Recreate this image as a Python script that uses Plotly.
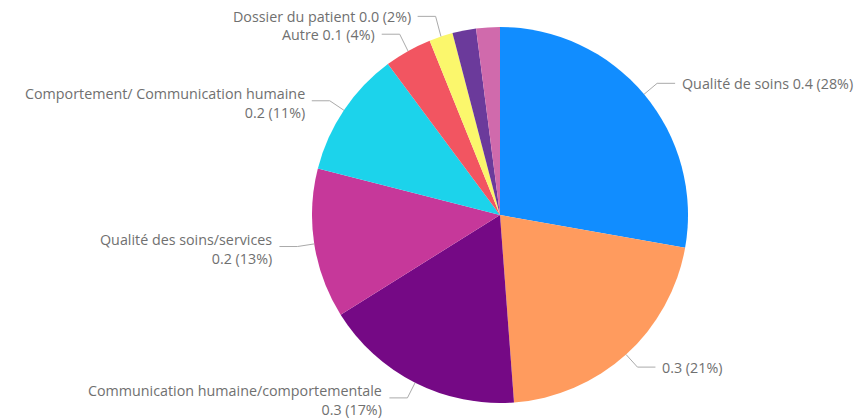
import math
import plotly.graph_objects as go

# ---- data ----
categories = ["Qualité de soins", "", "Communication humaine/comportementale",
              "Qualité des soins/services", "Comportement/ Communication humaine",
              "Autre", "Dossier du patient", "Catégorie 8", "Catégorie 9"]
values = [0.41, 0.31, 0.255, 0.19, 0.16, 0.06, 0.03, 0.03, 0.03]
colors = ["#118DFF", "#FF9B5E", "#750985", "#C6389A", "#1CD3EB",
          "#F25561", "#FBF76C", "#6B3A9B", "#D06AAC"]
show_label = [True, True, True, True, True, True, True, False, False]
# label text split into two lines for these
two_line = [False, False, True, True, True, False, False, False, False]

# ---- layout geometry (pixels) ----
W, H = 863, 420
cx, cy, R = 500, 215, 188
FONT = dict(family="Open Sans, Roboto, sans-serif", size=14.3, color="#707070")
# small vertical nudges (px) for crowded labels, keyed by slice index
NUDGE = {5: -2, 6: -4}

fig = go.Figure()
fig.add_trace(go.Pie(
    labels=[c if c else " " for c in categories], values=values,
    marker=dict(colors=colors, line=dict(width=0)),
    sort=False, direction="clockwise", rotation=0,
    textinfo="none", hoverinfo="label+value+percent",
    domain=dict(x=[(cx - R) / W, (cx + R) / W], y=[1 - (cy + R) / H, 1 - (cy - R) / H]),
    showlegend=False,
))

def px2paper(x, y):
    return x / W, 1 - y / H

total = sum(values)
cum = 0.0
shapes = []
annotations = []
for i, v in enumerate(values):
    frac = v / total
    mid = (cum + frac / 2) * 2 * math.pi
    cum += frac
    if not show_label[i]:
        continue
    sx, sy = math.sin(mid), -math.cos(mid)
    p0 = (cx + R * sx, cy + R * sy)
    p1 = (cx + (R + 17) * sx, cy + (R + 17) * sy + NUDGE.get(i, 0))
    right = sx >= 0
    p2 = (p1[0] + (18 if right else -18), p1[1])
    pct = round(frac * 100)
    num = f"{v:.1f} ({pct}%)"
    name = categories[i]
    if not name:
        txt = num
    elif two_line[i]:
        txt = f"{name}<br>{num}"
    else:
        txt = f"{name} {num}"
    path = "M {} {} L {} {} L {} {}".format(
        *px2paper(*p0), *px2paper(*p1), *px2paper(*p2))
    shapes.append(dict(type="path", xref="paper", yref="paper", path=path,
                       line=dict(color="#AAAAAA", width=1)))
    tx, ty = px2paper(p2[0] + (5 if right else -5), p1[1])
    annotations.append(dict(
        x=tx, y=ty, xref="paper", yref="paper", text=txt, showarrow=False,
        xanchor="left" if right else "right", yanchor="middle",
        yshift=-2 if two_line[i] else 0,
        align="left" if right else "right", font=FONT))

fig.update_layout(
    width=W, height=H, margin=dict(l=0, r=0, t=0, b=0),
    paper_bgcolor="white", plot_bgcolor="white",
    shapes=shapes, annotations=annotations, font=FONT,
)
fig.write_html("out.html")
